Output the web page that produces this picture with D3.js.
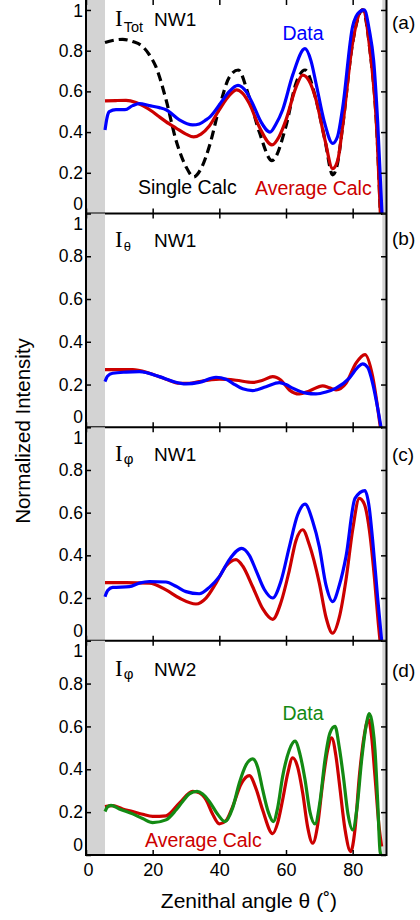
<!DOCTYPE html>
<html>
<head>
<meta charset="utf-8">
<script src="https://cdn.jsdelivr.net/npm/d3@7"></script>
<style>
  html, body { margin: 0; padding: 0; background: #fff; }
  svg { display: block; }
  text { font-family: "Liberation Sans", Arial, sans-serif; fill: #000; }
  .serif { font-family: "Liberation Serif", "Times New Roman", serif; }
</style>
</head>
<body>
<div id="chart"></div>
<script>
// Angular profiles, [zenithal angle (deg), normalized intensity]
const totSingleCalc = [[5.7,0.84],[8,0.85],[11,0.856],[14,0.845],[17,0.82],[19,0.78],[21,0.72],[24,0.56],[27,0.36],[30,0.23],[32.3,0.18],[34.5,0.22],[37,0.33],[40,0.52],[43,0.67],[45.7,0.705],[48.6,0.59],[52,0.40],[55.8,0.26],[60,0.43],[63,0.64],[65.7,0.705],[69,0.56],[71.7,0.36],[74,0.19],[75.5,0.25],[77,0.43],[80,0.84],[83,1.0],[85.2,0.8],[87.3,0.39],[88.3,0.0]];
const totAvgCalc = [[5.7,0.553],[9,0.555],[12,0.556],[15,0.545],[17,0.53],[20,0.5],[22,0.475],[25,0.44],[27,0.42],[30,0.39],[32.3,0.376],[34.5,0.39],[37,0.43],[40,0.51],[43,0.58],[45.2,0.607],[47,0.59],[49,0.54],[52,0.425],[55.8,0.337],[58,0.38],[60,0.46],[63,0.62],[65,0.68],[67,0.65],[69,0.56],[71.7,0.36],[74,0.22],[75.5,0.26],[77,0.43],[80,0.84],[83,1.0],[85.2,0.8],[87.3,0.39],[88.3,0.0]];
const totData = [[5.7,0.41],[6.3,0.47],[7,0.5],[9,0.51],[11.7,0.51],[14,0.53],[16,0.54],[19,0.53],[22,0.52],[24,0.51],[28,0.46],[32,0.435],[34,0.44],[36,0.46],[37.2,0.475],[41,0.557],[43,0.6],[45.6,0.63],[48,0.6],[50,0.54],[52.5,0.45],[55.2,0.40],[57,0.44],[59,0.51],[62,0.68],[65.7,0.81],[67.5,0.75],[69,0.64],[71.5,0.45],[74,0.345],[75.5,0.38],[77,0.52],[80,0.92],[82,0.99],[83.5,1.0],[85,0.9],[86.3,0.75],[87.5,0.45],[88.8,0.0]];

const thetaAvgCalc = [[5.7,0.27],[10,0.27],[14,0.27],[19,0.253],[24,0.225],[28,0.206],[31,0.205],[34,0.214],[40,0.225],[45,0.22],[50,0.21],[53,0.22],[56,0.237],[58.5,0.22],[61,0.175],[64,0.156],[67,0.17],[71,0.194],[73,0.185],[75,0.175],[78,0.206],[81,0.30],[83.7,0.34],[86,0.237],[87.6,0.08],[88.3,0.0]];
const thetaData = [[5.7,0.214],[6.5,0.24],[8,0.253],[12,0.258],[16,0.26],[22,0.237],[26,0.215],[30,0.203],[34,0.21],[39,0.234],[42,0.225],[44,0.206],[47,0.18],[50,0.172],[54,0.19],[58,0.209],[60,0.2],[62,0.183],[66,0.16],[69,0.156],[72,0.165],[75,0.183],[79,0.23],[81.5,0.28],[83,0.297],[84.5,0.28],[86,0.206],[87.5,0.09],[88.5,0.0]];

const phi1AvgCalc = [[5.7,0.272],[12,0.272],[19,0.27],[24,0.238],[28,0.2],[33,0.172],[36,0.2],[39,0.27],[42,0.35],[45,0.38],[47,0.35],[50,0.253],[53,0.15],[56,0.10],[58.5,0.18],[61,0.33],[63,0.47],[65,0.52],[67,0.45],[70,0.27],[72,0.11],[74,0.035],[76,0.11],[78,0.285],[80,0.52],[82,0.667],[83.5,0.64],[85,0.52],[86.5,0.3],[87.7,0.08],[88.2,0.0]];
const phi1Data = [[5.7,0.206],[6.5,0.235],[8,0.25],[13,0.253],[16,0.27],[19,0.277],[24,0.275],[27,0.255],[30,0.23],[34,0.22],[37,0.25],[40,0.30],[43,0.38],[46.7,0.433],[49,0.4],[51,0.33],[53.5,0.24],[56,0.20],[58.5,0.28],[61,0.44],[63.5,0.59],[65.7,0.64],[68,0.56],[70,0.44],[72,0.26],[74,0.183],[76,0.26],[78,0.394],[80.7,0.667],[83.7,0.703],[85,0.62],[86,0.47],[87.5,0.2],[88.7,0.0]];

const phi2AvgCalc = [[5.7,0.226],[8,0.23],[11,0.215],[14,0.203],[17,0.19],[20,0.18],[24,0.183],[28,0.242],[32,0.297],[34,0.29],[36,0.258],[38,0.19],[40,0.145],[42,0.16],[44,0.226],[46.5,0.33],[49,0.37],[51,0.31],[53,0.21],[56,0.10],[57.5,0.15],[59,0.258],[60.5,0.38],[62,0.453],[63.5,0.41],[65,0.29],[66.5,0.13],[68,0.055],[69.5,0.14],[71,0.336],[72.5,0.49],[73.7,0.547],[75,0.46],[76,0.336],[77.7,0.12],[79.4,0.016],[80.7,0.12],[82,0.367],[83.5,0.56],[84.7,0.633],[85.7,0.55],[86.7,0.367],[88,0.12],[88.7,0.04]];
const phi2Data = [[5.7,0.203],[6.5,0.225],[7.5,0.232],[10,0.215],[14,0.192],[17,0.17],[20,0.151],[24,0.164],[27,0.21],[29,0.25],[31,0.285],[33.3,0.297],[35,0.285],[37,0.25],[39.5,0.19],[41.7,0.156],[44,0.22],[46,0.336],[48,0.42],[50,0.449],[51.5,0.41],[53,0.305],[54.7,0.2],[56.2,0.156],[57.5,0.22],[59,0.367],[61,0.49],[62.7,0.531],[64.2,0.47],[65.7,0.352],[67.2,0.2],[68.7,0.145],[70.2,0.25],[71.7,0.445],[73.2,0.57],[74.7,0.60],[76,0.5],[77.2,0.367],[78.6,0.19],[80,0.117],[81.3,0.22],[82.7,0.445],[84,0.6],[85,0.66],[86,0.6],[86.7,0.49],[87.5,0.25],[88.2,0.02],[88.5,0.0]];

const xTicks = [0, 20, 40, 60, 80];
const yTicks = [0, 0.2, 0.4, 0.6, 0.8, 1];
const blockedBands = [[0, 5.7], [88.9, 90]];

const RED = '#cc0000', BLUE = '#0000ff', GREEN = '#138a13';

// panel layout (pixel boxes) and their series
const panels = [
    { top: 0,     bottom: 213.5, yMax: 1.049, tag: '(a)', tagY: 29,
      sym: 'Tot', symSize: 14.5, symDy: 6, nw: 'NW1', labelY: 26,
      series: [
          { data: totSingleCalc, color: '#000', dash: '9,5' },
          { data: totAvgCalc, color: RED },
          { data: totData, color: BLUE }
      ],
      notes: [
          { text: 'Data', x: 303, y: 40, color: BLUE, anchor: 'middle' },
          { text: 'Single Calc', x: 138, y: 194, color: '#000', anchor: 'start' },
          { text: 'Average Calc', x: 255, y: 195, color: RED, anchor: 'start' }
      ] },
    { top: 213.5, bottom: 427.3, yMax: 1, tag: '(b)', tagY: 245,
      sym: 'θ', symSize: 13, symDy: 4, nw: 'NW1', labelY: 246.5,
      series: [
          { data: thetaAvgCalc, color: RED },
          { data: thetaData, color: BLUE }
      ],
      notes: [] },
    { top: 427.3, bottom: 640.7, yMax: 1, tag: '(c)', tagY: 461,
      sym: 'φ', symSize: 15, symDy: 3, nw: 'NW1', labelY: 460.5,
      series: [
          { data: phi1AvgCalc, color: RED },
          { data: phi1Data, color: BLUE }
      ],
      notes: [] },
    { top: 640.7, bottom: 855, yMax: 1, tag: '(d)', tagY: 677,
      sym: 'φ', symSize: 15, symDy: 3, nw: 'NW2', labelY: 676,
      series: [
          { data: phi2AvgCalc, color: RED },
          { data: phi2Data, color: GREEN }
      ],
      notes: [
          { text: 'Data', x: 303, y: 720, color: GREEN, anchor: 'middle' },
          { text: 'Average Calc', x: 145, y: 846.5, color: RED, anchor: 'start' }
      ] }
];

const width = 420, height = 920;
const left = 86, right = 386;

const svg = d3.select('#chart').append('svg')
    .attr('width', width)
    .attr('height', height);

const x = d3.scaleLinear().domain([0, 90]).range([left, right]);

const line = d3.line()
    .x(d => x(d[0]))
    .curve(d3.curveMonotoneX);

const fmt = d => d === 0 ? '0' : d === 1 ? '1' : d.toFixed(1);

panels.forEach((p, i) => {
    const y = d3.scaleLinear().domain([0, p.yMax]).range([p.bottom, p.top]);
    const g = svg.append('g');

    // grey excluded angle ranges
    g.selectAll('rect.band')
        .data(blockedBands)
        .enter().append('rect')
        .attr('class', 'band')
        .attr('x', d => x(d[0]))
        .attr('width', d => x(d[1]) - x(d[0]))
        .attr('y', p.top)
        .attr('height', p.bottom - p.top)
        .attr('fill', '#d3d3d3');

    // clip to the panel
    const clipId = 'clip' + i;
    svg.append('clipPath').attr('id', clipId)
        .append('rect')
        .attr('x', left).attr('y', p.top)
        .attr('width', right - left).attr('height', p.bottom - p.top);

    line.y(d => y(d[1]));
    g.append('g').attr('clip-path', `url(#${clipId})`)
        .selectAll('path')
        .data(p.series)
        .enter().append('path')
        .attr('d', d => line(d.data))
        .attr('fill', 'none')
        .attr('stroke', d => d.color)
        .attr('stroke-width', 3.2)
        .attr('stroke-dasharray', d => d.dash || null)
        .attr('stroke-linejoin', 'round');

    // y axes (ticks inward)
    const yl = g.append('g')
        .attr('transform', `translate(${left},0)`)
        .call(d3.axisLeft(y).tickValues(yTicks).tickFormat(fmt).tickSize(-5).tickPadding(3));
    yl.select('.domain').remove();
    yl.selectAll('line').attr('stroke-width', 1.5);
    // keep end labels inside the panel box
    yl.selectAll('text')
        .attr('font-size', 17.5)
        .attr('font-family', '"Liberation Sans", Arial, sans-serif')
        .attr('y', d => {
            const c = y(d);
            return Math.min(Math.max(c, p.top + 10.5), p.bottom - 10) - c;
        });

    const yr = g.append('g')
        .attr('transform', `translate(${right},0)`)
        .call(d3.axisRight(y).tickValues(yTicks).tickFormat('').tickSize(-5));
    yr.select('.domain').remove();
    yr.selectAll('line').attr('stroke-width', 1.5);

    // x axes top and bottom
    const isLast = i === panels.length - 1;
    const xb = g.append('g')
        .attr('transform', `translate(0,${p.bottom})`)
        .call(d3.axisBottom(x).tickValues(xTicks).tickSize(-5).tickPadding(8)
            .tickFormat(isLast ? d3.format('d') : ''));
    xb.select('.domain').remove();
    xb.selectAll('line').attr('stroke-width', 1.5);
    xb.selectAll('text')
        .attr('font-size', 18)
        .attr('font-family', '"Liberation Sans", Arial, sans-serif')
        .attr('x', d => d === 0 ? 2 : 0);

    const xt = g.append('g')
        .attr('transform', `translate(0,${p.top})`)
        .call(d3.axisTop(x).tickValues(xTicks).tickSize(-5).tickFormat(''));
    xt.select('.domain').remove();
    xt.selectAll('line').attr('stroke-width', 1.5);

    // bottom frame line of the panel
    g.append('line')
        .attr('x1', left).attr('x2', right)
        .attr('y1', p.bottom).attr('y2', p.bottom)
        .attr('stroke', '#000').attr('stroke-width', 2);

    // intensity symbol
    const lab = g.append('text')
        .attr('x', 115)
        .attr('y', p.labelY);
    lab.append('tspan')
        .attr('class', 'serif')
        .attr('font-size', 23)
        .text('I');
    lab.append('tspan')
        .attr('font-size', p.symSize)
        .attr('dx', 1)
        .attr('dy', p.symDy)
        .text(p.sym);
    g.append('text')
        .attr('x', 154)
        .attr('y', p.labelY)
        .attr('font-size', 19)
        .text(p.nw);

    g.append('text')
        .attr('x', 392)
        .attr('y', p.tagY)
        .attr('font-size', 19)
        .text(p.tag);

    g.selectAll('text.note')
        .data(p.notes)
        .enter().append('text')
        .attr('class', 'note')
        .attr('x', d => d.x)
        .attr('y', d => d.y)
        .attr('text-anchor', d => d.anchor)
        .attr('font-size', 19.5)
        .style('fill', d => d.color)
        .text(d => d.text);
});

// outer left / right frame
svg.append('line')
    .attr('x1', left).attr('x2', left)
    .attr('y1', 0).attr('y2', 856)
    .attr('stroke', '#000').attr('stroke-width', 2);
svg.append('line')
    .attr('x1', right + 0.5).attr('x2', right + 0.5)
    .attr('y1', 0).attr('y2', 856)
    .attr('stroke', '#000').attr('stroke-width', 2);

// axis titles
svg.append('text')
    .attr('x', 249)
    .attr('y', 908)
    .attr('text-anchor', 'middle')
    .attr('font-size', 21)
    .text('Zenithal angle θ (˚)');

svg.append('text')
    .attr('transform', 'translate(30,431) rotate(-90)')
    .attr('text-anchor', 'middle')
    .attr('font-size', 20.5)
    .text('Normalized Intensity');
</script>
</body>
</html>
